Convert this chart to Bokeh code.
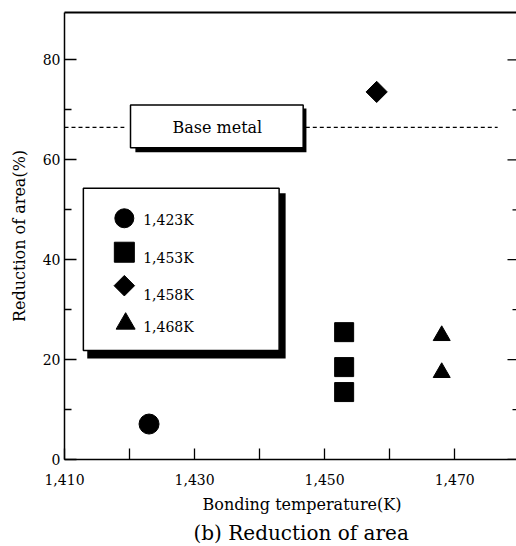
import math
from bokeh.plotting import figure
from bokeh.models import Range1d, LinearAxis, FixedTicker, NumeralTickFormatter, Title
from bokeh.embed import file_html
from bokeh.resources import INLINE
from bokeh.core.properties import value

# ---------------- data ----------------
temp_1423 = [1423]
ra_1423 = [7.1]
temp_1453 = [1453, 1453, 1453]
ra_1453 = [25.5, 18.5, 13.5]
temp_1458 = [1458]
ra_1458 = [73.6]
temp_1468 = [1468, 1468]
ra_1468 = [24.8, 17.4]
base_metal_ra = 66.5
base_metal_label = "Base metal"
legend_labels = ["1,423K", "1,453K", "1,458K", "1,468K"]
x_major_ticks = [1410, 1430, 1450, 1470]
x_minor_ticks = [1420, 1440, 1460, 1480]
y_major_ticks = [0, 20, 40, 60, 80]
y_minor_ticks = [10, 30, 50, 70]
x_label = "Bonding temperature(K)"
y_label = "Reduction of area(%)"
caption = "(b) Reduction of area"

FONT = "DejaVu Serif"
X0, X1 = 1410, 1479.5
Y0, Y1 = 0, 89.5
PX_PER_K = 6.5  # horizontal pixels per kelvin (452 px frame)

p = figure(width=516, height=546, output_backend="svg", toolbar_location=None,
           x_range=Range1d(X0, X1), y_range=Range1d(Y0, Y1),
           x_axis_type=None, y_axis_type=None,
           min_border_left=64, min_border_right=0, min_border_top=12, min_border_bottom=87)
p.outline_line_color = None
p.background_fill_color = "white"
p.border_fill_color = "white"

# bottom axis
xa = LinearAxis(ticker=FixedTicker(ticks=x_major_ticks, minor_ticks=x_minor_ticks),
                formatter=NumeralTickFormatter(format="0,0"),
                major_tick_in=11, major_tick_out=0, minor_tick_in=11, minor_tick_out=0,
                axis_line_width=1.5, major_tick_line_width=1.3, minor_tick_line_width=1.3,
                major_label_text_font=FONT, major_label_text_font_size="14px",
                major_label_standoff=14, major_label_text_color="black")
p.add_layout(xa, "below")

# left axis
ya = LinearAxis(ticker=FixedTicker(ticks=y_major_ticks, minor_ticks=y_minor_ticks),
                axis_label=y_label, axis_label_text_font=FONT, axis_label_text_font_size="16px",
                axis_label_text_font_style="normal", axis_label_standoff=11,
                axis_label_text_color="black",
                major_tick_in=12, major_tick_out=0, minor_tick_in=7, minor_tick_out=0,
                axis_line_width=1.5, major_tick_line_width=1.3, minor_tick_line_width=1.3,
                major_label_text_font=FONT, major_label_text_font_size="14px",
                major_label_standoff=4, major_label_text_color="black")
p.add_layout(ya, "left")

# top border (line only, no ticks)
ta = LinearAxis(ticker=FixedTicker(ticks=[], minor_ticks=[]), major_tick_in=0, major_tick_out=0,
                minor_tick_in=0, minor_tick_out=0, major_label_standoff=0,
                axis_line_width=1.8)
p.add_layout(ta, "above")

# right-side inward ticks (no axis line, no labels)
p.segment(x0=[X1 - 9 / PX_PER_K] * len(y_major_ticks), x1=[X1] * len(y_major_ticks),
          y0=y_major_ticks, y1=y_major_ticks, line_color="black", line_width=1.3)
p.segment(x0=[X1 - 4 / PX_PER_K] * len(y_minor_ticks), x1=[X1] * len(y_minor_ticks),
          y0=y_minor_ticks, y1=y_minor_ticks, line_color="black", line_width=1.3)

# x-axis title and caption below
t1 = Title(text=x_label, align="left", offset=138, text_font=FONT, text_font_size="16px",
           text_font_style="normal", text_color="black", standoff=10)
p.add_layout(t1, "below")
t2 = Title(text=caption, align="left", offset=129, text_font=FONT, text_font_size="20px",
           text_font_style="normal", text_color="black", standoff=0)
p.add_layout(t2, "below")

# base metal dashed line with box
p.segment(x0=[X0, 1447.1], x1=[1419.2, 1476.6], y0=[base_metal_ra] * 2, y1=[base_metal_ra] * 2,
          line_color="black", line_width=1.1, line_dash="4 3")
p.quad(left=[1420.9], right=[1447.2], bottom=[61.5], top=[70.3], fill_color="black", line_color=None)
p.quad(left=[1420.15], right=[1446.7], bottom=[62.4], top=[71.0], fill_color="white",
       line_color="black", line_width=1.5)
p.text(x=[1433.5], y=[base_metal_ra], text=[base_metal_label], text_font=value(FONT),
       text_font_size="16px", text_align="center", text_baseline="middle", text_color="black")

# legend box
p.quad(left=[1413.5], right=[1444.0], bottom=[20.2], top=[53.3], fill_color="black", line_color=None)
p.quad(left=[1412.9], right=[1443.0], bottom=[21.8], top=[54.3], fill_color="white",
       line_color="black", line_width=1.5)
leg_x = 1419.2
p.scatter([leg_x], [48.3], marker="circle", size=19, color="black")
p.scatter([leg_x], [41.5], marker="square", size=20, color="black")
p.scatter([leg_x], [34.8], marker="square", angle=math.pi / 4, size=14.5, color="black")
p.scatter([leg_x + 0.2], [27.2], marker="triangle", size=19, color="black")
p.text(x=[1422.1] * 4, y=[48.0, 40.3, 32.9, 26.5], text=legend_labels, text_font=value(FONT),
       text_font_size="14px", text_align="left", text_baseline="middle", text_color="black")

# data points
p.scatter(temp_1423, ra_1423, marker="circle", size=20, color="black")
p.scatter(temp_1453, ra_1453, marker="square", size=19, color="black")
p.scatter(temp_1458, ra_1458, marker="square", angle=math.pi / 4, size=15, color="black")
p.scatter(temp_1468, ra_1468, marker="triangle", size=17, color="black")

open("out.html", "w").write(file_html(p, INLINE))
